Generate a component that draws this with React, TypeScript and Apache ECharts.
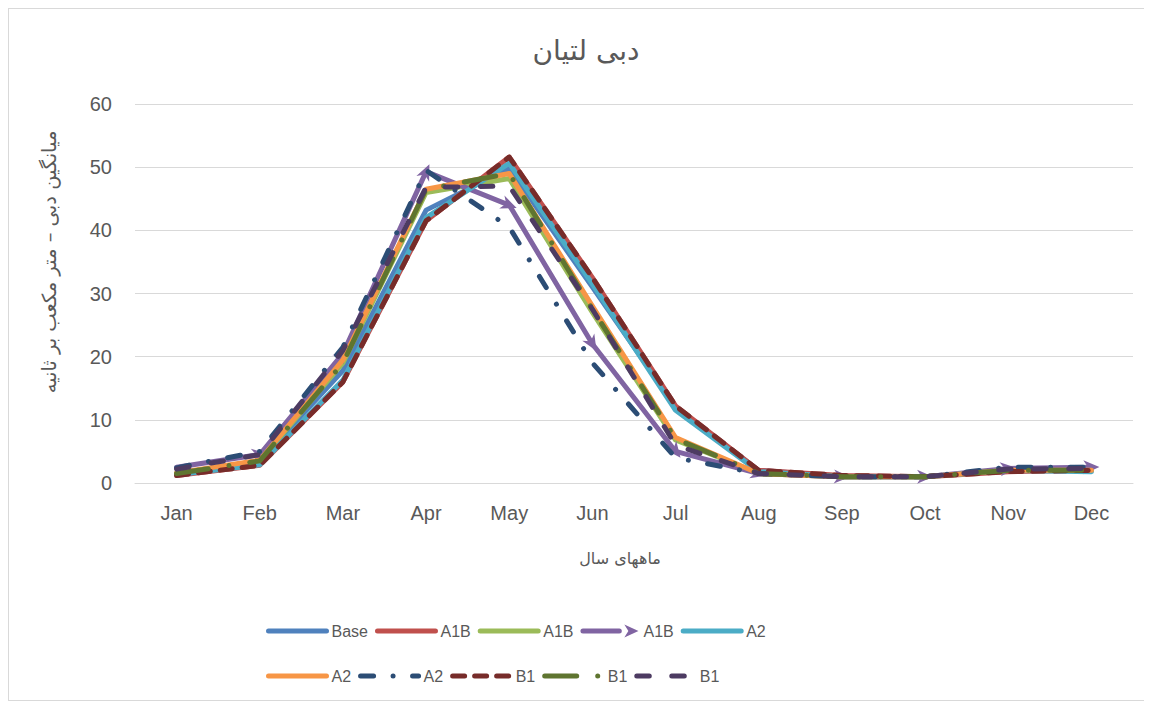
import { useEffect, useRef } from "react";
import * as echarts from "echarts";

const months = ["Jan", "Feb", "Mar", "Apr", "May", "Jun", "Jul", "Aug", "Sep", "Oct", "Nov", "Dec"];
const yTicks = [0, 10, 20, 30, 40, 50, 60];

const baseVals = [1.5, 3.5, 17.8, 43.2, 49.8, 31, 12, 2, 1, 1, 2, 2];
const a1bRed = [1.2, 2.8, 16, 41.5, 51.6, 32.5, 12.2, 2, 1.2, 1, 1.8, 2];
const a1bGreen = [1.5, 3.5, 19, 46, 48.2, 27, 6.8, 1.5, 1, 1, 2, 2];
const a1bPurple = [2.5, 4.5, 20.5, 49.3, 44, 22, 5, 1.5, 1, 1, 2.3, 2.5];
const a2Cyan = [1.3, 2.9, 16.3, 42, 50.6, 31.5, 11.5, 1.8, 1, 1, 2, 1.8];
const a2Orange = [1.6, 3.6, 19.5, 46.5, 49, 28, 7.2, 1.5, 1, 1, 2, 2];
const a2DarkBlue = [2.4, 5, 21.5, 49.5, 40.5, 19, 4, 1.5, 1, 1, 2.5, 2.5];
const b1DarkRed = [1.2, 2.8, 16, 41.5, 51.6, 32.5, 12.2, 2, 1.2, 1, 1.8, 2];
const b1DarkGreen = [1.5, 3.5, 19, 46.5, 49, 27.5, 7, 1.5, 1, 1, 2, 2];
const b1DarkPurple = [2.2, 4.5, 21, 46.8, 47, 27.5, 6, 1.5, 1, 1, 2.2, 2.3];

const seriesNames = ["Base", "A1B", "A1B", "A1B", "A2", "A2", "A2", "B1", "B1", "B1"];
const seriesColors = ["#4F81BD", "#C0504D", "#9BBB59", "#8064A2", "#4BACC6", "#F79646", "#2C4D75", "#772C2A", "#5F7530", "#4D3B62"];
const seriesData = [baseVals, a1bRed, a1bGreen, a1bPurple, a2Cyan, a2Orange, a2DarkBlue, b1DarkRed, b1DarkGreen, b1DarkPurple];

const titleText = "دبی لتیان";
const yName = "میانگین دبی – متر مکعب بر ثانیه";
const xName = "ماههای سال";

const ARROW = "path://M0,0 L12,6 L0,12 L3.5,6 Z";
const ARROW_LEGEND = "path://M1,4.5 L37,4.5 A2.5,2.5 0 0 1 37,9.5 L1,9.5 A2.5,2.5 0 0 1 1,4.5 Z M42,0.5 L56,7 L42,13.5 L46,7 Z";

export default function App() {
  const ref = useRef<HTMLDivElement>(null);
  useEffect(() => {
    if (!ref.current) return;
    const chart = echarts.init(ref.current, null, { renderer: "svg" });
    const W = 5;
    const dashes: any[] = [
      "solid", "solid", "solid", "solid", "solid", "solid",
      [13, 19.5, 0.01, 19.5],
      [12, 10],
      [32, 21, 0.01, 21],
      [12.5, 22.5],
    ];
    const pxPerUnit = 379 / 60;
    const band = 83.2;
    const series = seriesData.map((vals, i) => {
      const name = seriesNames[i] + "#" + i;
      const isArrow = i === 3;
      const data = isArrow
        ? vals.map((v, k) => {
            if (k === 0) return { value: v, symbol: "none" };
            const dy = (v - vals[k - 1]) * pxPerUnit;
            const ang = (Math.atan2(dy, band) * 180) / Math.PI;
            return { value: v, symbolRotate: ang };
          })
        : vals;
      return {
        type: "line",
        name,
        data,
        symbol: isArrow ? ARROW : "none",
        symbolSize: [16, 14],
        showSymbol: isArrow,
        itemStyle: { color: seriesColors[i] },
        lineStyle: {
          color: seriesColors[i],
          width: W,
          type: dashes[i],
          cap: "round",
          join: "round",
        },
        z: 2 + i,
      };
    });
    const fmt = (n: string) => n.split("#")[0];
    const legendText = { color: "#595959", fontSize: 16, fontFamily: "Liberation Sans", width: 36 };
    const legendItems = series.map((s, i) =>
      i === 3
        ? { name: s.name, icon: ARROW_LEGEND, itemStyle: { color: seriesColors[i], opacity: 1 } }
        : { name: s.name, itemStyle: { opacity: 0 } }
    );
    const legendCommon = {
      left: 252,
      itemWidth: 58,
      itemHeight: 14,
      itemGap: 7,
      formatter: fmt,
      textStyle: legendText,
      selectedMode: false,
      lineStyle: { width: W, cap: "round" },
    };
    const option: any = {
      animation: false,
      textStyle: { fontFamily: "Liberation Sans" },
      grid: { left: 126, right: 19, top: 95, bottom: 217 },
      legend: [
        { ...legendCommon, data: legendItems.slice(0, 5), top: 609 },
        { ...legendCommon, data: legendItems.slice(5), top: 654 },
      ],
      xAxis: {
        type: "category",
        data: months,
        boundaryGap: true,
        axisLine: { lineStyle: { color: "#D9D9D9", width: 1 } },
        axisTick: { show: false },
        axisLabel: { color: "#595959", fontSize: 20, margin: 20, fontFamily: "Liberation Sans" },
      },
      yAxis: {
        type: "value",
        min: yTicks[0],
        max: yTicks[yTicks.length - 1],
        interval: 10,
        axisLine: { show: false },
        axisTick: { show: false },
        splitLine: { lineStyle: { color: "#D9D9D9", width: 1 } },
        axisLabel: { color: "#595959", fontSize: 20, margin: 23, fontFamily: "Liberation Sans" },
      },
      graphic: [
        {
          type: "text",
          x: 577,
          y: 41,
          style: {
            text: titleText,
            fill: "#595959",
            font: "28px 'DejaVu Sans'",
            textAlign: "center",
            textVerticalAlign: "middle",
          },
        },
        {
          type: "text",
          x: 40,
          y: 253,
          rotation: Math.PI / 2,
          style: {
            text: yName,
            fill: "#595959",
            font: "19.5px 'DejaVu Sans'",
            textAlign: "center",
            textVerticalAlign: "middle",
          },
        },
        {
          type: "text",
          x: 611,
          y: 549,
          style: {
            text: xName,
            fill: "#595959",
            font: "16px 'DejaVu Sans'",
            textAlign: "center",
            textVerticalAlign: "middle",
          },
        },
      ],
      series,
    };
    chart.setOption(option);
    return () => chart.dispose();
  }, []);
  return (
    <div
      style={{
        width: 1144,
        height: 693,
        boxSizing: "border-box",
        borderLeft: "1px solid #D9D9D9",
        borderTop: "1px solid #D9D9D9",
        borderBottom: "1px solid #D9D9D9",
        background: "#fff",
      }}
    >
      <div ref={ref} style={{ width: 1143, height: 691 }} />
    </div>
  );
}
